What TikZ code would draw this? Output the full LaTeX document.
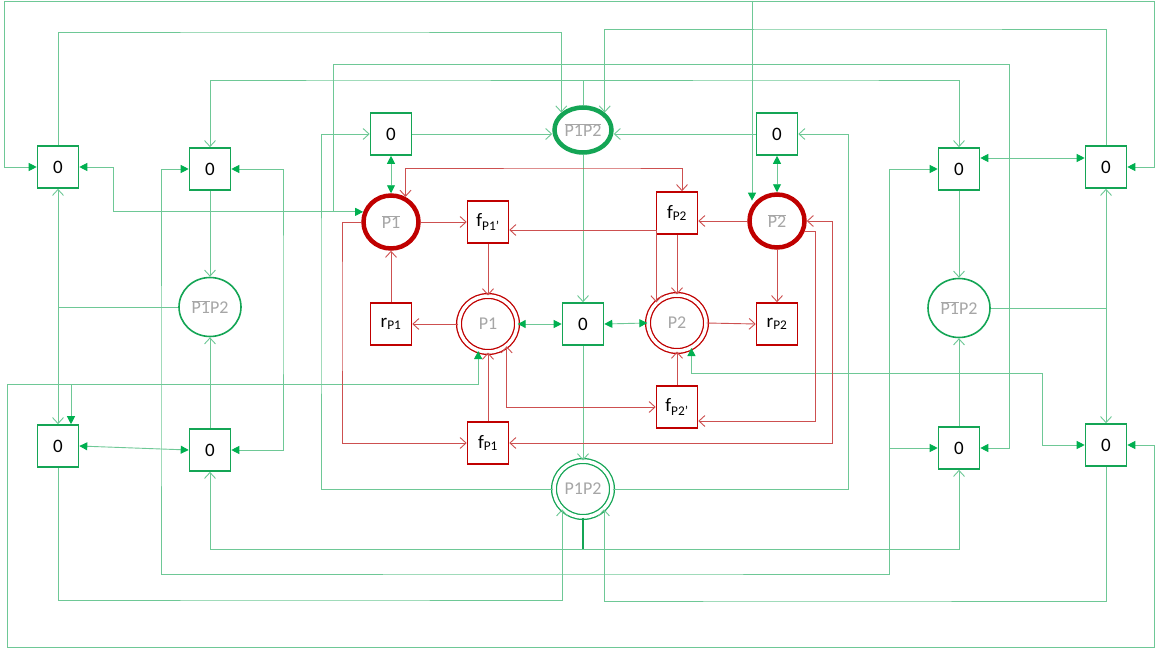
\documentclass[tikz,border=0pt]{standalone}
\usepackage{fontspec}
\setmainfont{Carlito}
\usepackage{tikz}
\usetikzlibrary{arrows.meta,shapes.geometric}
\usepackage{xcolor}
\definecolor{linegreen}{RGB}{110,200,150}
\definecolor{boxgreen}{RGB}{20,165,85}
\definecolor{tipgreen}{RGB}{0,176,80}
\definecolor{boxred}{RGB}{192,0,0}
\definecolor{linered}{RGB}{205,80,80}
\definecolor{labgray}{RGB}{166,166,166}
\newcommand{\ovl}[1]{$\overline{\mbox{#1}}$}
\tikzset{
  ftri/.tip={Triangle[length=8pt,width=8pt,color=tipgreen]},
  obarb/.tip={Straight Barb[length=6pt,width=11pt]},
  rbarb/.tip={Straight Barb[length=6pt,width=11pt]},
  gline/.style={draw=linegreen,line width=0.9pt},
  rline/.style={draw=linered,line width=0.9pt},
  zbox/.style={draw=boxgreen,line width=1.6pt,fill=white,minimum width=41pt,minimum height=42pt,inner sep=0pt,font=\fontsize{19}{21}\selectfont},
  rbox/.style={draw=boxred,line width=1.6pt,fill=white,minimum width=41pt,minimum height=42pt,inner sep=0pt,font=\fontsize{19}{21}\selectfont},
  gring/.style={ellipse,draw=boxgreen,line width=1.6pt,fill=white,minimum width=62pt,minimum height=59pt,inner sep=0pt,text=labgray,font=\fontsize{18}{20}\selectfont},
  gthick/.style={gring,line width=4.5pt,minimum width=57pt,minimum height=45pt},
  gdouble/.style={gring,line width=1.3pt,double=white,double distance=3.5pt,minimum width=58pt,minimum height=56pt},
  rthick/.style={gring,draw=boxred,line width=4.5pt,minimum width=55pt,minimum height=53pt},
  rdouble/.style={gring,draw=boxred,line width=1.3pt,double=white,double distance=3.5pt,minimum width=58pt,minimum height=56pt},
}
\begin{document}
\begin{tikzpicture}[x=1pt,y=-1pt]
    \fill[white] (0,0) rectangle (1156,650);
    \useasboundingbox (0,0) rectangle (1156,650);
    % zero boxes
    \node[zbox] (zOutLT) at (58,167) {0};
    \node[zbox] (zInLT) at (210,169) {0};
    \node[zbox] (zC1) at (391,134) {0};
    \node[zbox] (zC2) at (777,134) {0};
    \node[zbox] (zInRT) at (959,169) {0};
    \node[zbox] (zOutRT) at (1106,167) {0};
    \node[zbox] (zOutLB) at (58,446) {0};
    \node[zbox] (zInLB) at (210,450) {0};
    \node[zbox] (zInRB) at (959,448) {0};
    \node[zbox] (zOutRB) at (1106,445) {0};
    \node[zbox] (zMid) at (583,324) {0};
    % places
    \node[gthick] (pTop) at (583,130) {\ovl{P1}\ovl{P2}};
    \node[gring] (pLeft) at (210,307) {\ovl{P1}P2};
    \node[gring] (pRight) at (959,308) {\ovl{P1}P2};
    \node[gdouble] (pBot) at (583,489) {P1P2};
    \node[rthick] (p1Bar) at (391,222) {\ovl{P1}};
    \node[rthick] (p2Bar) at (777,221) {\ovl{P2}};
    \node[rdouble] (p1) at (488,324) {P1};
    \node[rdouble] (p2) at (677,323) {P2};
    % transitions
    \node[rbox] (f1p) at (488,222) {f\textsubscript{P1'}};
    \node[rbox] (f2) at (677,213) {f\textsubscript{P2}};
    \node[rbox] (r1) at (391,324) {r\textsubscript{P1}};
    \node[rbox] (r2) at (777,324) {r\textsubscript{P2}};
    \node[rbox] (f2p) at (677,407) {f\textsubscript{P2'}};
    \node[rbox] (f1) at (488,443) {f\textsubscript{P1}};
    \coordinate (tj) at (752,1);
    \coordinate (lj) at (71,384);
    \coordinate (rj) at (889,448);
    \coordinate (bj) at (583,549);

    % green arcs
    \draw[gline,{ftri}-{ftri}] (zOutLT.west) -| (4,1) -| (1154,167) -- (zOutRT.east);
    \draw[gline,-{ftri}] (tj) -- (tj |- p2Bar.north west);
    \draw[gline,{ftri}-{ftri}] (zOutLT.east) -- (113,167) |- (p1Bar.160);
    \draw[gline,{ftri}-] (zInRB.east) -| (1009,64) -| (333,212);
    \draw[gline,-{obarb}] (pTop.north) |- (400,80) -| (zInLT.north);
    \draw[gline,-{obarb}] (pTop.north) |- (800,80) -| (zInRT.north);
    \draw[gline,-{obarb}] (zOutLT.north) |- (300,32) -| (pTop.north west);
    \draw[gline,-{obarb}] (zOutRT.north) |- (900,29) -| (pTop.north east);
    \draw[gline,-{obarb}] (zC1.east) -- (zC1.east -| pTop.west);
    \draw[gline,-{obarb}] (zC2.west) -- (zC2.west -| pTop.east);
    \draw[gline,-{obarb}] (pBot.west) -| (321,300) |- (zC1.west);
    \draw[gline,-{obarb}] (pBot.east) -| (848,300) |- (zC2.east);
    \draw[gline,{ftri}-{ftri}] (zC1.south) -- (p1Bar.north);
    \draw[gline,{ftri}-{ftri}] (zC2.south) -- (p2Bar.north);
    \draw[gline,-{obarb}] (pTop.south) -- (zMid.north);
    \draw[gline,-{obarb}] (zMid.south) -- (pBot.north);
    \draw[gline,{ftri}-{ftri}] (zMid.west) -- (p1.east);
    \draw[gline,{ftri}-{ftri}] (zMid.east) -- (p2.west);
    \draw[draw=boxgreen,line width=1.6pt] (pBot.south) -- (bj);
    \draw[gline,-{obarb}] (bj) -| (zInLB.south);
    \draw[gline,-{obarb}] (bj) -| (zInRB.south);
    \draw[gline,-{obarb}] (zOutLB.south) |- (300,600) -| (pBot.south west);
    \draw[gline,-{obarb}] (zOutRB.south) |- (800,601) -| (pBot.south east);
    \draw[gline,{ftri}-{ftri}] (zInLT.west) -| (161,400) |- (600,574) -| (889,300) |- (zInRT.west);
    \draw[gline,-{ftri}] (rj) -- (zInRB.west);
    \draw[gline,{ftri}-{ftri}] (zInLT.east) -| (283,300) |- (zInLB.east);
    \draw[gline,{ftri}-{ftri}] (zOutLB.east) -- (zInLB.west);
    \draw[gline,{ftri}-{ftri}] ([yshift=11pt]zInRT.east) -- ([yshift=9pt]zOutRT.west);
    \draw[gline,{obarb}-{obarb}] (zOutLT.south) -- (zOutLB.north);
    \draw[gline] (pLeft.west) -- (pLeft.west -| zOutLT.south);
    \draw[gline,{obarb}-{obarb}] (zOutRT.south) -- (zOutRB.north);
    \draw[gline] (pRight.east) -- (pRight.east -| zOutRT.south);
    \draw[gline,-{obarb}] (zInLT.south) -- (pLeft.north);
    \draw[gline,-{obarb}] (zInLB.north) -- (pLeft.south);
    \draw[gline,-{obarb}] (zInRT.south) -- (pRight.north);
    \draw[gline,-{obarb}] (zInRB.north) -- (pRight.south);
    \draw[gline,{ftri}-{ftri}] (zOutRB.east) -| (1154,647) -| (7,384) -| (p1.250);
    \draw[gline,-{ftri}] (lj) -- (lj |- zOutLB.north);
    \draw[gline,{ftri}-{ftri}] (zOutRB.west) -| (1042,373) -| (p2.300);

    % red arcs
    \draw[rline,-{rbarb}] (p1Bar.east) -- (f1p.west);
    \draw[rline,-{rbarb}] (f1p.south) -- (p1.north);
    \draw[rline,-{rbarb}] (p1.west) -- (r1.east);
    \draw[rline,-{rbarb}] (r1.north) -- (p1Bar.south);
    \draw[rline,{rbarb}-{rbarb}] (p1Bar.60) |- (600,168) -| ([xshift=5pt]f2.north);
    \draw[rline,-{rbarb}] (p2Bar.west) -- (p2Bar.west -| f2.east);
    \draw[rline,-{rbarb}] (f2.south) -- (p2.north);
    \draw[rline,-{rbarb}] (p2Bar.south) -- (r2.north);
    \draw[rline,-{rbarb}] (p2.east) -- (r2.west);
    \draw[rline,{rbarb}-{rbarb}] ([yshift=-8pt]f1p.east) -| (p2.135);
    \draw[rline,{rbarb}-{rbarb}] (p1.310) |- (f2p.west);
    \draw[rline,-{rbarb}] (p2Bar.340) -| (815,300) |- ([yshift=-14pt]f2p.east);
    \draw[rline,{rbarb}-{rbarb}] (p2Bar.east) -| (832,300) |- (f1.east);
    \draw[rline,-{rbarb}] (p1Bar.west) -| (342,300) |- (f1.west);
    \draw[rline,-{rbarb}] (f1.north) -- (p1.south);
    \draw[rline,-{rbarb}] (f2p.north) -- (p2.south);
\end{tikzpicture}
\end{document}
